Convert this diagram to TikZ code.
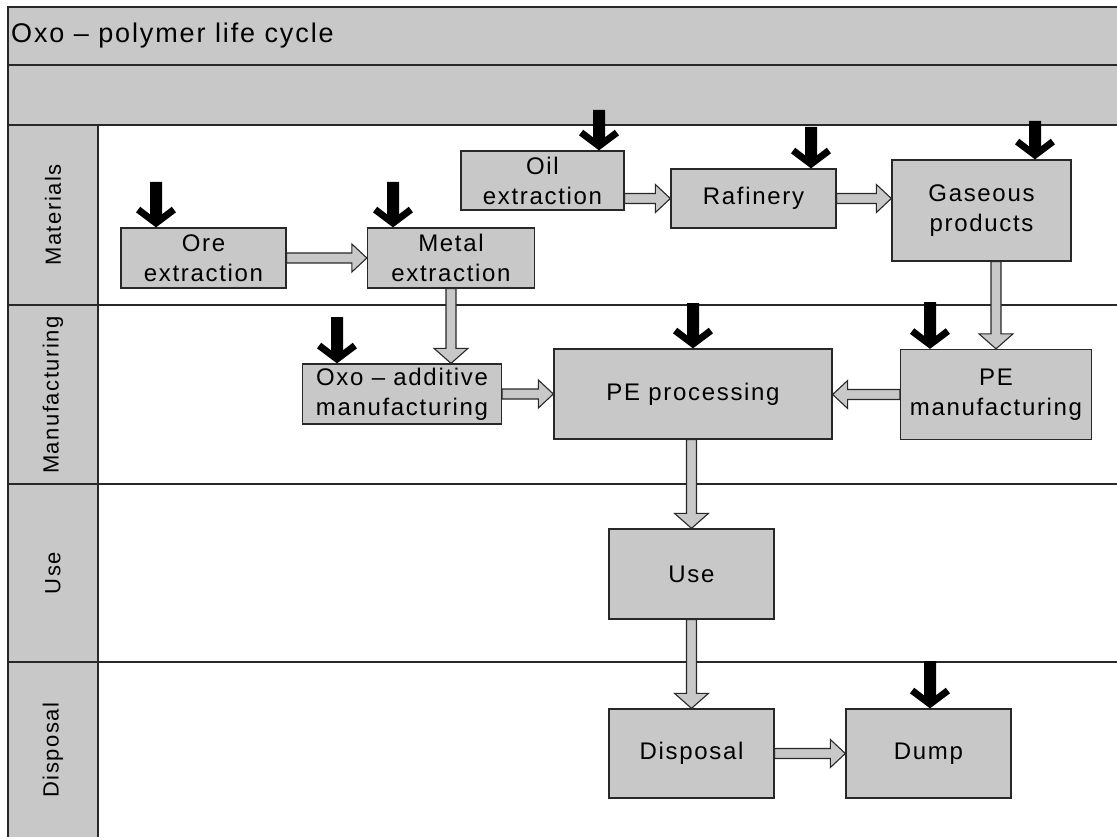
\documentclass[tikz,border=0pt]{standalone}
\usepackage{fontspec}
\setmainfont{Liberation Sans}[LetterSpace=7]
\usetikzlibrary{calc}
\definecolor{grayc}{RGB}{200,200,200}
\definecolor{edge}{RGB}{40,40,40}
\begin{document}
\begin{tikzpicture}[x=1pt,y=-1pt,
 box/.style={draw=edge, fill=grayc, line width=1.3pt, align=center, inner sep=0pt, font=\fontsize{24}{30}\selectfont},
 lane/.style={rotate=90, font=\fontsize{22}{26}\selectfont},
 frame/.style={draw=edge, line width=1.3pt},
 garrow/.style={draw=edge, fill=grayc, line width=1.1pt, line join=miter,
   to path={let \p1=(\tikztostart), \p2=(\tikztotarget), \p3=($(\p2)!15pt!(\p1)$),
     \n1={atan2(\y2-\y1,\x2-\x1)} in
     ($(\p1)+(\n1+90:5pt)$) -- ($(\p3)+(\n1+90:5pt)$) -- ($(\p3)+(\n1+90:#1)$) -- (\p2)
     -- ($(\p3)+(\n1-90:#1)$) -- ($(\p3)+(\n1-90:5pt)$) -- ($(\p1)+(\n1-90:5pt)$) -- cycle}},
 garrow/.default=14pt,
 barrow/.style={fill=black, draw=none,
   to path={let \p1=(\tikztostart), \p2=(\tikztotarget) in
     (\x2-6pt,\y1) -- (\x2-6pt,\y2+13pt) -- (\x2-15.8pt,\y2+20.6pt) -- (\x2-20pt,\y2+15pt)
     -- (\x2,\y2) -- (\x2+20pt,\y2+15pt) -- (\x2+15.8pt,\y2+20.6pt) -- (\x2+6pt,\y2+13pt)
     -- (\x2+6pt,\y1) -- cycle}}
]
\useasboundingbox (0,0) rectangle (1117,837);
\clip (0,0) rectangle (1117,837);
% swimlane frame
\fill[grayc] (8,7) rectangle (1140,125);
\fill[grayc] (8,125) rectangle (98,850);
\draw[frame] (1140,7) -- (8,7) -- (8,850);
\draw[frame] (8,65) -- (1140,65);
\draw[frame] (8,125) -- (1140,125);
\draw[frame] (8,305) -- (1140,305);
\draw[frame] (8,484) -- (1140,484);
\draw[frame] (8,662) -- (1140,662);
\draw[frame] (98,125) -- (98,850);
\node[anchor=west, font=\fontsize{27}{31}\selectfont, inner sep=0pt] (title) at (11,36) {Oxo – polymer life cycle};
\node[lane] (lmat) at (53,215) {Materials};
\node[lane] (lman) at (53,395) {Manufacturing};
\node[lane] (luse) at (53,573) {Use};
\node[lane] (ldis) at (53,750) {Disposal};
% boxes
\node[box, minimum width=191pt, minimum height=90pt] (pem) at (996,394.5) {PE\\manufacturing};
\node[box, minimum width=163pt, minimum height=59pt] (oil) at (542.5,180.5) {Oil\\extraction};
\node[box, minimum width=165pt, minimum height=59pt] (raf) at (753.5,198.5) {Rafinery};
\node[box, minimum width=179pt, minimum height=101pt] (gas) at (981.5,210.5) {Gaseous\\products};
\node[box, minimum width=165pt, minimum height=60pt] (ore) at (203.5,258) {Ore\\extraction};
\node[box, minimum width=167pt, minimum height=60pt] (metal) at (451,258) {Metal\\extraction};
\node[box, minimum width=199pt, minimum height=60pt] (oxo) at (402,394) {Oxo – additive\\manufacturing};
\node[box, minimum width=278pt, minimum height=90pt] (pep) at (693,394) {PE processing};
\node[box, minimum width=165pt, minimum height=90pt] (use) at (691.5,574) {Use};
\node[box, minimum width=165pt, minimum height=89pt] (disp) at (691.5,753.5) {Disposal};
\node[box, minimum width=165pt, minimum height=89pt] (dump) at (928.5,753.5) {Dump};
% gray flow arrows
\draw[garrow] (ore.east) to (metal.west);
\draw[garrow] (oil.east |- raf.west) to (raf.west);
\draw[garrow] (raf.east) to (raf.east -| gas.west);
\draw[garrow=17pt] (metal.south) to (metal.south |- oxo.north);
\draw[garrow=17pt] (gas.south -| pem.north) to (pem.north);
\draw[garrow] (oxo.east) to (oxo.east -| pep.west);
\draw[garrow] (pem.west) to (pem.west -| pep.east);
\draw[garrow=17pt] (use.north |- pep.south) to (use.north);
\draw[garrow=17pt] (use.south) to (disp.north);
\draw[garrow] (disp.east) to (dump.west);
% black input arrows
\coordinate (bore) at (156,182);
\coordinate (bmetal) at (393,182);
\coordinate (boil) at (599,110);
\coordinate (braf) at (811,127);
\coordinate (bgas) at (1035,121);
\coordinate (boxo) at (337,317);
\coordinate (bpep) at (693,303);
\coordinate (bpem) at (930,302);
\coordinate (bdump) at (930,661);
\draw[barrow] (bore) to (bore |- ore.north);
\draw[barrow] (bmetal) to (bmetal |- metal.north);
\draw[barrow] (boil) to (boil |- oil.north);
\draw[barrow] (braf) to (braf |- raf.north);
\draw[barrow] (bgas) to (bgas |- gas.north);
\draw[barrow] (boxo) to (boxo |- oxo.north);
\draw[barrow] (bpep) to (bpep |- pep.north);
\draw[barrow] (bpem) to (bpem |- pem.north);
\draw[barrow] (bdump) to (bdump |- dump.north);
\end{tikzpicture}
\end{document}
